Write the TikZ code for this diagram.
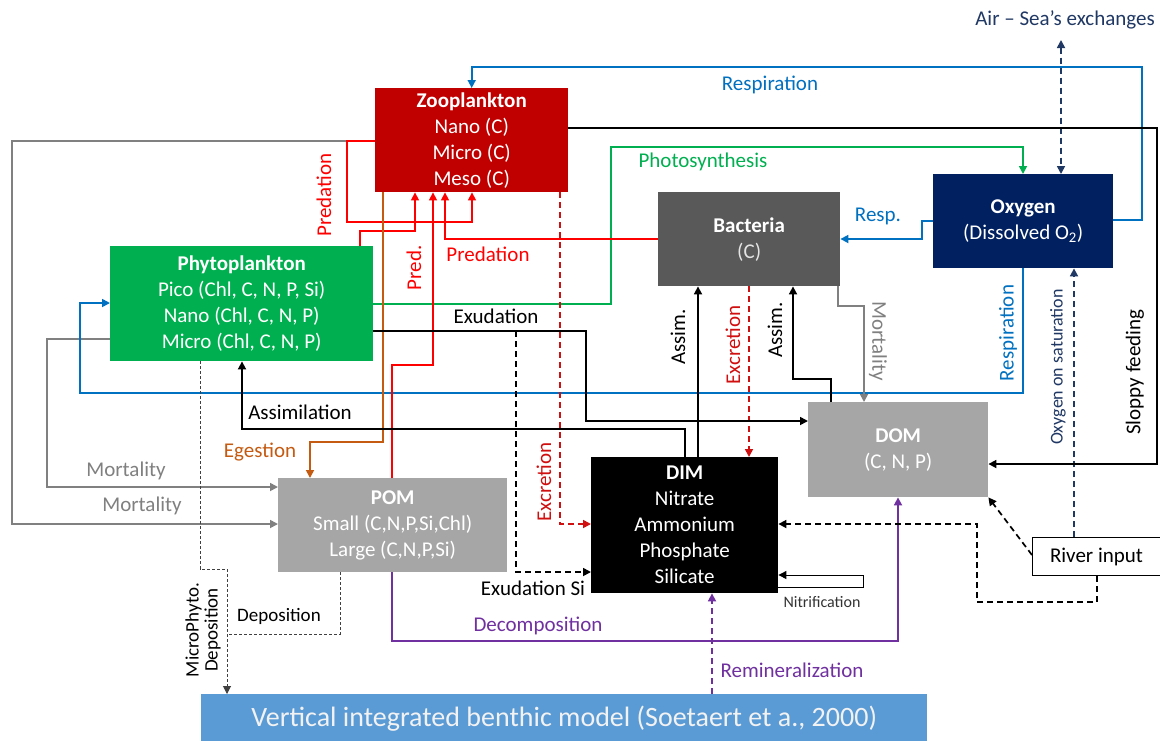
\documentclass[tikz,border=0pt]{standalone}
\usepackage{fontspec}
\setmainfont{Carlito}
\usetikzlibrary{arrows.meta}
\definecolor{czoo}{HTML}{C00000}
\definecolor{cphy}{HTML}{00B050}
\definecolor{cbac}{HTML}{595959}
\definecolor{coxy}{HTML}{002060}
\definecolor{com}{HTML}{A6A6A6}
\definecolor{cben}{HTML}{5B9BD5}
\definecolor{cblue}{HTML}{0070C0}
\definecolor{cgreen}{HTML}{00B050}
\definecolor{cred}{HTML}{FF0000}
\definecolor{cdred}{HTML}{D01010}
\definecolor{corange}{HTML}{C55A11}
\definecolor{cgrey}{HTML}{808080}
\definecolor{cpurple}{HTML}{7030A0}
\definecolor{cnavy}{HTML}{203864}
\definecolor{clight}{HTML}{E3E3E3}
\tikzset{
  box/.style={anchor=north west, inner sep=0pt, align=center, text=white,
    font=\fontsize{21}{26}\selectfont},
  lab/.style={inner sep=0pt, font=\fontsize{21}{25}\selectfont},
  conn/.style={line width=1.7pt},
  rconn/.style={line width=1.4pt, cred},
  arr/.style={-{Triangle[length=8pt,width=8pt]}},
  dsh/.style={dash pattern=on 6pt off 4pt},
  finedsh/.style={dash pattern=on 3pt off 2pt, line width=1pt, draw=black!75},
}
\begin{document}
\begin{tikzpicture}[x=1pt,y=-1pt]
\fill[white] (0,0) rectangle (1160,740);
\useasboundingbox (0,0) rectangle (1160,740);

% ---------- boxes ----------
\node[box, fill=czoo, minimum width=193pt, minimum height=104pt] (zoo) at (375,88)
  {\textbf{Zooplankton}\\Nano (C)\\Micro (C)\\Meso (C)};
\node[box, fill=cphy, minimum width=263pt, minimum height=115pt] (phy) at (110,246)
  {\textbf{Phytoplankton}\\Pico (Chl, C, N, P, Si)\\Nano (Chl, C, N, P)\\Micro (Chl, C, N, P)};
\node[box, fill=cbac, minimum width=182pt, minimum height=94pt] (bac) at (658,192)
  {\textbf{Bacteria}\\\textcolor{clight}{(C)}};
\node[box, fill=coxy, minimum width=180pt, minimum height=94pt] (oxy) at (933,174)
  {\textbf{Oxygen}\\(Dissolved O\textsubscript{2})};
\node[box, fill=com, minimum width=180pt, minimum height=95pt] (dom) at (808,402)
  {\textbf{DOM}\\(C, N, P)};
\node[box, fill=black, minimum width=187pt, minimum height=136pt] (dim) at (591,457)
  {\textbf{DIM}\\Nitrate\\Ammonium\\Phosphate\\Silicate};
\node[box, fill=com, minimum width=229pt, minimum height=94pt] (pom) at (278,478)
  {\textbf{POM}\\Small (C,N,P,Si,Chl)\\Large (C,N,P,Si)};
\node[box, draw=black, line width=1pt, fill=white, text=black, minimum width=135pt, minimum height=38pt] (river) at (1032,537)
  {\hspace*{-7pt}River input};
\node[box, fill=cben, text=white!95!black, minimum width=726pt, minimum height=48pt,
  font=\fontsize{28}{30}\selectfont] (ben) at (201,694)
  {Vertical integrated benthic model (Soetaert et a., 2000)};
\node[lab, text=cnavy] (air) at (1065,20) {Air -- Sea’s exchanges};

% ---------- coordinates ----------
\coordinate (airtop) at (1061,40);
\coordinate (exsplit) at (516,331);
\coordinate (depjoin) at (227,634);

% ---------- grey mortality ----------
\draw[conn, cgrey, arr] (zoo.west |- 0,141) -- (12,141) -- (12,524) -- (pom.west |- 0,524);
\draw[conn, cgrey, arr] (phy.west |- 0,339) -- (47,339) -- (47,487) -- (pom.west |- 0,487);
\node[lab, text=cgrey] at (126,471) {Mortality};
\node[lab, text=cgrey] at (142,506) {Mortality};

% ---------- blue respiration ----------
\draw[conn, cblue, arr] (oxy.east |- 0,220) -- (1142,220) -- (1142,67) -| (zoo.north);
\node[lab, text=cblue] at (770,85) {Respiration};
\draw[conn, cblue, arr] (oxy.west |- 0,221) -- (922,221) -- (922,239) -- (bac.east |- 0,239);
\node[lab, text=cblue] at (878,216) {Resp.};
\draw[conn, cblue, arr] (oxy.south -| 1023,0) -- (1023,393) -- (80,393) -- (80,303) -- (phy.west |- 0,303);
\node[lab, text=cblue, rotate=90] at (1008,333) {Respiration};

% ---------- green photosynthesis ----------
\draw[conn, cgreen, arr] (phy.east |- 0,304) -- (611,304) -- (611,147) -- (1023,147) -- (oxy.north -| 1023,0);
\node[lab, text=cgreen] at (703,162) {Photosynthesis};

% ---------- navy ----------
\draw[conn, cnavy, dsh, {Triangle[length=8pt,width=8pt]}-{Triangle[length=8pt,width=8pt]}] (airtop) -- (oxy.north -| airtop);
\draw[conn, cnavy, dsh, arr] (river.north -| 1074,0) -- (oxy.south -| 1074,0);
\node[lab, text=cnavy, rotate=90, font=\fontsize{18}{20}\selectfont] at (1058,367) {Oxygen on saturation};

% ---------- sloppy feeding ----------
\draw[conn, arr] (zoo.east |- 0,128) -- (1157,128) -- (1157,464) -- (dom.east |- 0,464);
\node[lab, rotate=90] at (1135,372) {Sloppy feeding};

% ---------- bacteria links ----------
\draw[conn, cgrey, arr] (bac.south -| 838,0) -- (838,306) -- (864,306) -- (dom.north -| 864,0);
\node[lab, text=cgrey, rotate=-90] at (878,341) {Mortality};
\draw[conn, arr] (dom.north -| 831,0) -- (831,379) -- (793,379) -- (bac.south -| 793,0);
\node[lab, rotate=90] at (775,330) {Assim.};
\draw[conn, arr] (dim.north -| 698,0) -- (bac.south -| 698,0);
\node[lab, rotate=90] at (678,337) {Assim.};
\draw[conn, cdred, dsh, arr] (bac.south -| 749,0) -- (dim.north -| 749,0);
\node[lab, text=cdred, rotate=90] at (733,345) {Excretion};

% ---------- zooplankton excretion ----------
\draw[conn, cdred, dsh, arr] (zoo.south -| 560,0) -- (560,524) -- (dim.west |- 0,524);
\node[lab, text=cdred, rotate=90] at (544,482) {Excretion};

% ---------- predation ----------
\draw[rconn, arr] (bac.west |- 0,239) -- (445,239) -- (zoo.south -| 445,0);
\node[lab, text=cred] at (488,254) {Predation};
\draw[rconn, arr] (zoo.west |- 0,141) -- (347,141) -- (347,222) -- (472,222) -- (zoo.south -| 472,0);
\node[lab, text=cred, rotate=90] at (324,195) {Predation};
\draw[rconn, arr] (phy.north -| 360,0) -- (360,231) -- (415,231) -- (zoo.south -| 415,0);
\draw[rconn, arr] (pom.north -| 392,0) -- (392,365) -- (433,365) -- (zoo.south -| 433,0);
\node[lab, text=cred, rotate=90] at (414,268) {Pred.};

% ---------- egestion ----------
\draw[conn, corange, arr] (zoo.south -| 383,0) -- (383,442) -- (310,442) -- (pom.north -| 310,0);
\node[lab, text=corange] at (260,452) {Egestion};

% ---------- assimilation / exudation ----------
\draw[conn, arr] (dim.north -| 685,0) -- (685,429) -- (242,429) -- (phy.south -| 242,0);
\node[lab] at (300,412) {Assimilation};
\draw[conn, arr] (phy.east |- 0,331) -- (586,331) -- (586,421) -- (dom.west |- 0,421);
\node[lab] at (496,316) {Exudation};
\draw[conn, dsh, arr] (exsplit) -- (516,572) -- (dim.west |- 0,572);
\node[lab] at (533,588) {Exudation Si};

% ---------- deposition ----------
\draw[finedsh, arr] (phy.south -| 200,0) -- (200,569) -- (227,569) -- (ben.north -| depjoin);
\draw[finedsh] (pom.south -| 340,0) -- (340,634) -- (depjoin);
\node[lab, rotate=90, align=center, font=\fontsize{19}{19}\selectfont] at (203,630) {MicroPhyto.\\Deposition};
\node[lab, font=\fontsize{19}{22}\selectfont] at (279,616) {Deposition};

% ---------- decomposition / remineralization ----------
\draw[conn, cpurple, arr] (pom.south -| 392,0) -- (392,641) -- (898,641) -- (dom.south -| 898,0);
\node[lab, text=cpurple] at (538,626) {Decomposition};
\draw[conn, cpurple, dsh, arr] (ben.north -| 712,0) -- (dim.south -| 712,0);
\node[lab, text=cpurple] at (792,670) {Remineralization};

% ---------- nitrification ----------
\draw[line width=1pt, arr] (dim.east |- 0,587) -- (863,587) -- (863,575) -- (dim.east |- 0,575);
\node[lab, text=black!80, font=\fontsize{16}{18}\selectfont] at (822,602) {Nitrification};

% ---------- river input ----------
\draw[conn, dsh, arr] (river.west |- 0,555) -- (dom.south east);
\draw[conn, dsh, arr] (river.south -| 1097,0) -- (1097,602) -- (977,602) -- (977,524) -- (dim.east |- 0,524);
\end{tikzpicture}
\end{document}
